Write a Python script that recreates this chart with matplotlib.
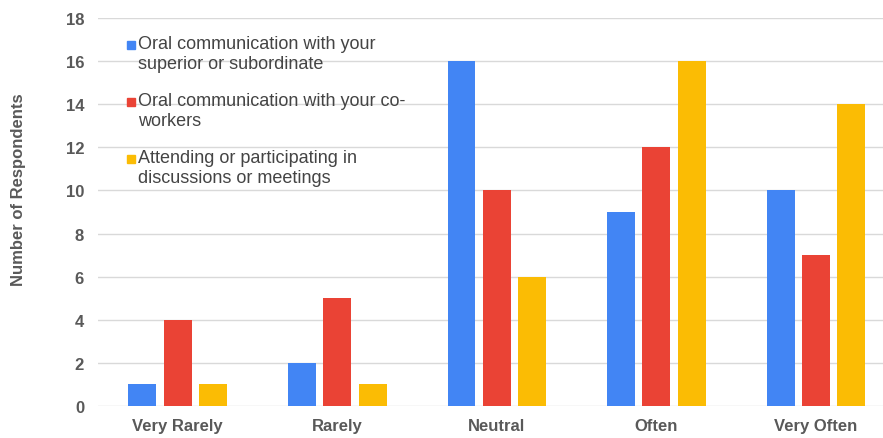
import matplotlib.pyplot as plt
import matplotlib.patches as mpatches
import numpy as np

plt.rcParams['font.family'] = ['Liberation Sans', 'DejaVu Sans']

categories = ['Very Rarely', 'Rarely', 'Neutral', 'Often', 'Very Often']
superior = [1, 2, 16, 9, 10]
coworkers = [4, 5, 10, 12, 7]
meetings = [1, 1, 6, 16, 14]
labels = ['Oral communication with your\nsuperior or subordinate',
          'Oral communication with your co-\nworkers',
          'Attending or participating in\ndiscussions or meetings']
colors = ['#4285F4', '#EA4335', '#FBBC04']
grey = '#595959'

fig = plt.figure(figsize=(8.83, 4.39), dpi=100)
ax = fig.add_axes([98/883, 32/439, 785/883, 388/439])

x = np.arange(len(categories))
w = 0.175
off = 0.222
for i, vals in enumerate([superior, coworkers, meetings]):
    ax.bar(x + (i - 1)*off, vals, width=w, color=colors[i], zorder=3)

ax.set_xlim(-0.5, 4.42)
ax.set_ylim(0, 18)
ax.set_yticks(np.arange(0, 19, 2))
ax.set_xticks(x)
ax.set_xticklabels(categories)
ax.grid(axis='y', color='#d9d9d9', lw=1, zorder=0)
for s in ax.spines.values():
    s.set_visible(False)
ax.tick_params(length=0, labelsize=12, colors=grey, pad=9)
ax.tick_params(axis='y', pad=10)
for t in ax.get_xticklabels() + ax.get_yticklabels():
    t.set_fontweight('bold')
ax.set_ylabel('Number of Respondents', fontsize=12, fontweight='bold', color=grey)
ax.yaxis.set_label_coords(-72/785, 0.559)

# legend drawn by hand
ytop = [46, 103, 160]
for i in range(3):
    yy = 1 - ytop[i]/439
    fig.patches.append(mpatches.Rectangle((127/883, yy - 4/439), 8/883, 8/439,
                                          transform=fig.transFigure, color=colors[i]))
    fig.text(138/883, yy + 10/439, labels[i], fontsize=13, color='#444444',
             va='top', ha='left', linespacing=1.22)

plt.savefig('out.png', dpi=100)
